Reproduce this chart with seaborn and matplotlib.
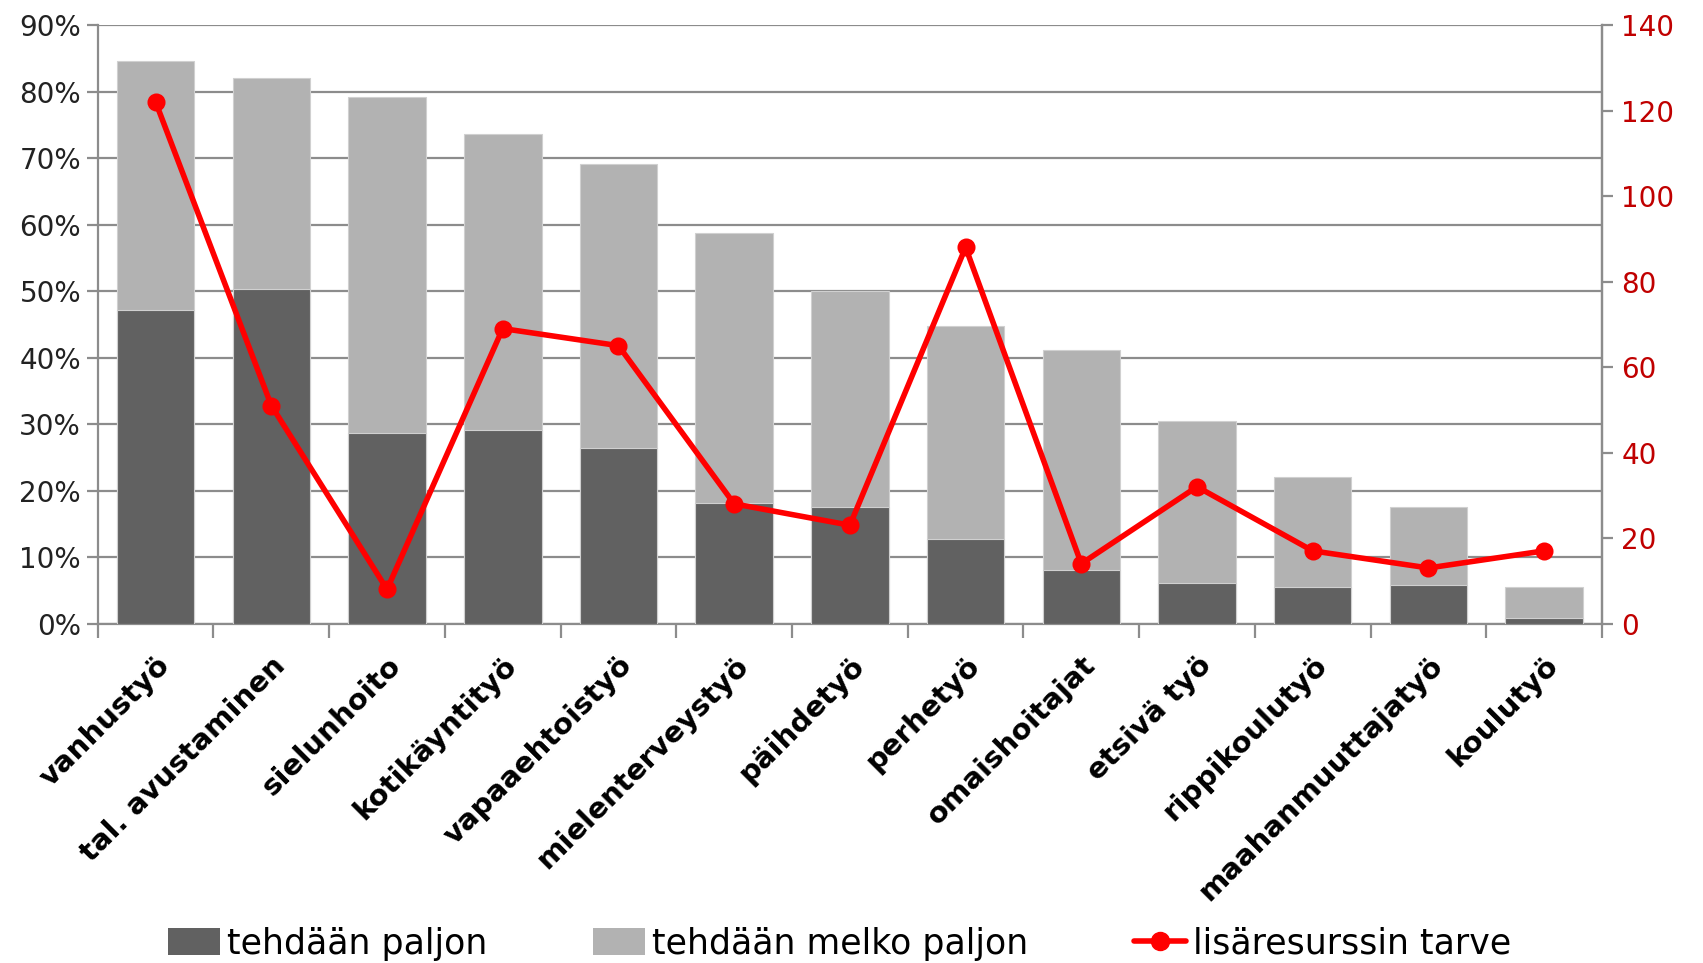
import matplotlib
matplotlib.use("Agg")
import matplotlib.pyplot as plt
import seaborn as sns
import numpy as np
import pandas as pd
from matplotlib.patches import Patch
from matplotlib.lines import Line2D
from matplotlib.ticker import PercentFormatter, MultipleLocator, FixedLocator

categories = ["vanhustyö", "tal. avustaminen", "sielunhoito", "kotikäyntityö",
              "vapaaehtoistyö", "mielenterveystyö", "päihdetyö", "perhetyö",
              "omaishoitajat", "etsivä työ", "rippikoulutyö",
              "maahanmuuttajatyö", "koulutyö"]
paljon = [47.2, 50.3, 28.7, 29.1, 26.4, 18.1, 17.6, 12.7, 8.0, 6.1, 5.5, 5.8, 0.9]
yhteensa = [84.6, 82.1, 79.2, 73.6, 69.1, 58.8, 50.0, 44.7, 41.2, 30.5, 22.1, 17.5, 5.5]
tarve = [122, 51, 8, 69, 65, 28, 23, 88, 14, 32, 17, 13, 17]
series_names = ["tehdään paljon", "tehdään melko paljon", "lisäresurssin tarve"]

DARK = "#616161"
LIGHT = "#b2b2b2"
RED = "#ff0000"
GRID = "#8c8c8c"

sns.set_theme(style="white")
plt.rcParams["font.family"] = ["DejaVu Sans"]

df = pd.DataFrame({"cat": categories, "paljon": paljon, "yht": yhteensa, "tarve": tarve})

fig = plt.figure(figsize=(17.03, 9.63), dpi=100)
ax = fig.add_axes([0.0574, 0.3525, 0.8833, 0.6215])

sns.barplot(data=df, x="cat", y="yht", color=LIGHT, saturation=1, width=0.67,
            ax=ax, zorder=2, edgecolor="#d0d0d0", linewidth=0.8)
sns.barplot(data=df, x="cat", y="paljon", color=DARK, saturation=1, width=0.67,
            ax=ax, zorder=3, edgecolor="#d0d0d0", linewidth=0.8)

ax.set_ylim(0, 90)
ax.set_xlim(-0.5, len(categories) - 0.5)
ax.yaxis.set_major_locator(MultipleLocator(10))
ax.yaxis.set_major_formatter(PercentFormatter(decimals=0))
ax.grid(axis="y", color=GRID, linewidth=1.6, zorder=0)
ax.set_axisbelow(True)
ax.set_xlabel("")
ax.set_ylabel("")

ax.spines["top"].set_visible(False)
for s in ["left", "bottom", "right"]:
    ax.spines[s].set_color(GRID)
    ax.spines[s].set_linewidth(1.6)

ax.set_xticks(range(len(categories)))
ax.set_xticklabels(categories, rotation=45, ha="right", rotation_mode="anchor",
                   fontsize=21, fontweight="semibold", color="black")
ax.xaxis.set_minor_locator(FixedLocator(np.arange(-0.5, len(categories), 1.0)))
ax.tick_params(axis="x", which="major", length=0, pad=20)
ax.tick_params(axis="x", which="minor", length=10, width=1.6, color=GRID, direction="out", bottom=True)
ax.tick_params(axis="y", which="major", length=8, width=1.6, color=GRID, direction="out",
               labelsize=20, labelcolor="#222222", left=True, pad=4)

ax2 = ax.twinx()
sns.pointplot(data=df, x="cat", y="tarve", color=RED, markers="o", linestyles="-",
              ax=ax2, markersize=10, linewidth=4, zorder=5)
ax2.set_ylim(0, 140)
ax2.yaxis.set_major_locator(MultipleLocator(20))
ax2.set_xlim(-0.5, len(categories) - 0.5)
ax2.set_ylabel("")
ax2.set_xlabel("")
ax2.grid(False)
for s in ["top", "left", "bottom"]:
    ax2.spines[s].set_visible(False)
ax2.spines["right"].set_color(GRID)
ax2.spines["right"].set_linewidth(1.6)
ax2.tick_params(axis="y", length=8, width=1.6, color=GRID, direction="out",
                labelsize=20, labelcolor="#c00000", right=True, pad=6)

handles = [Patch(facecolor=DARK, edgecolor="none"),
           Patch(facecolor=LIGHT, edgecolor="none"),
           Line2D([0], [0], color=RED, linewidth=4, marker="o", markersize=13)]
fig.legend(handles, series_names, loc="lower center", bbox_to_anchor=(0.493, -0.03),
           ncol=3, frameon=False, handlelength=1.5, handleheight=0.8,
           handletextpad=0.2, columnspacing=3.05, labelcolor="black",
           prop={"family": ["DejaVu Sans"], "size": 25})

fig.savefig("out.png", dpi=100)
